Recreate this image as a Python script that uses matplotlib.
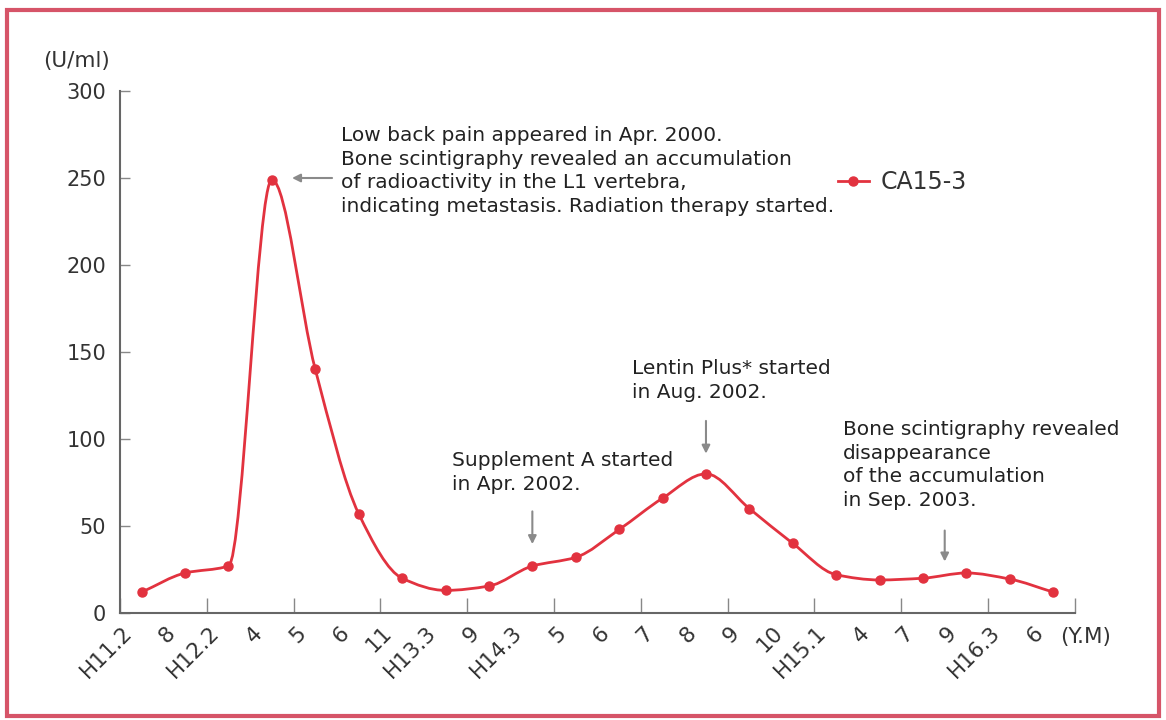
import numpy as np
import matplotlib.pyplot as plt
import matplotlib.transforms as mtransforms
from matplotlib.path import Path
from matplotlib.patches import PathPatch, Rectangle
from matplotlib.lines import Line2D

plt.rcParams['font.family'] = ['DejaVu Sans']

# tick labels (year.month, Heisei era)
labels = ['H11.2', '8', 'H12.2', '4', '5', '6', '11', 'H13.3', '9', 'H14.3',
          '5', '6', '7', '8', '9', '10', 'H15.1', '4', '7', '9', 'H16.3', '6']
# CA15-3 values (U/ml)
ca153 = [12, 23, 27, 249, 140, 57, 20, 13, 15.5, 27,
         32, 48, 66, 80, 60, 40, 22, 19, 20, 23, 19.5, 12]

RED = '#e2323f'
GRAY = '#8a8a8a'
TXT = '#333333'

x = np.arange(len(ca153)) + 0.5
y = np.array(ca153, dtype=float)

fig = plt.figure(figsize=(11.66, 7.2), dpi=100)
ax = fig.add_axes([0.1029, 0.1486, 0.819, 0.725])

# smooth line: monotone cubic (fritsch-carlson) drawn as bezier path
h = np.diff(x)
d = np.diff(y) / h
m = np.zeros_like(y)
m[0], m[-1] = d[0], d[-1]
for i in range(1, len(y) - 1):
    if d[i-1] * d[i] > 0:
        m[i] = 2 / (1 / d[i-1] + 1 / d[i])
verts = [(x[0], y[0])]
codes = [Path.MOVETO]
for i in range(len(y) - 1):
    verts += [(x[i] + h[i] / 3, y[i] + m[i] * h[i] / 3),
              (x[i+1] - h[i] / 3, y[i+1] - m[i+1] * h[i] / 3),
              (x[i+1], y[i+1])]
    codes += [Path.CURVE4] * 3
ax.add_patch(PathPatch(Path(verts, codes), fill=False, edgecolor=RED, lw=2))
ax.plot(x, y, 'o', color=RED, ms=6.5, zorder=3)

ax.set_xlim(0, 22)
ax.set_ylim(0, 300)
for s in ['top', 'right']:
    ax.spines[s].set_visible(False)
for s in ['left', 'bottom']:
    ax.spines[s].set_color('#666666')
    ax.spines[s].set_linewidth(1.5)

ax.set_yticks(range(0, 301, 50))
ax.tick_params(axis='y', direction='in', length=7, color='#888888', width=1,
               labelsize=15, labelcolor=TXT, pad=10)
ax.set_xticks(range(0, 23, 2))
ax.set_xticklabels([])
ax.tick_params(axis='x', direction='in', length=11, color='#888888', width=1)
ax.set_xticks(x, minor=True)
ax.set_xticklabels(labels, minor=True, rotation=45, ha='right', va='top',
                   rotation_mode='anchor', fontsize=15.5, color=TXT)
ax.tick_params(axis='x', which='minor', length=0, pad=7)
shift = mtransforms.ScaledTranslation(-0.2, 0, fig.dpi_scale_trans)
for lab in ax.get_xticklabels(minor=True):
    lab.set_transform(lab.get_transform() + shift)

ax.text(-1.0, 317, '(U/ml)', ha='center', va='center', fontsize=15.5, color=TXT)
ax.text(22.25, -14, '(Y.M)', ha='center', va='center', fontsize=15.5, color=TXT)

# annotations
ann = dict(fontsize=14.5, color='#222222', va='top', ha='left', linespacing=1.32)
arr = dict(arrowstyle='-|>', color=GRAY, lw=1.5, mutation_scale=12)
ax.text(5.1, 280, 'Low back pain appeared in Apr. 2000.\n'
        'Bone scintigraphy revealed an accumulation\n'
        'of radioactivity in the L1 vertebra,\n'
        'indicating metastasis. Radiation therapy started.', **ann)
ax.annotate('', xy=(3.9, 250), xytext=(4.95, 250), arrowprops=arr)

ax.text(7.65, 93, 'Supplement A started\nin Apr. 2002.', **ann)
ax.annotate('', xy=(9.5, 38), xytext=(9.5, 60), arrowprops=arr)

ax.text(11.8, 146, 'Lentin Plus* started\nin Aug. 2002.', **ann)
ax.annotate('', xy=(13.5, 90), xytext=(13.5, 112), arrowprops=arr)

ax.text(16.65, 111, 'Bone scintigraphy revealed\ndisappearance\n'
        'of the accumulation\nin Sep. 2003.', **ann)
ax.annotate('', xy=(19.0, 28), xytext=(19.0, 49), arrowprops=arr)

handle = Line2D([], [], color=RED, lw=2, marker='o', ms=6.5)
ax.legend([handle], ['CA15-3'], loc='center left', bbox_to_anchor=(0.752, 0.826),
          frameon=False, prop={'size': 17}, labelcolor=TXT, borderaxespad=0,
          borderpad=0, handlelength=1.3, handletextpad=0.5)

# figure border
fig.patches.append(Rectangle((0.006, 0.006), 0.988, 0.98, transform=fig.transFigure,
                             fill=False, edgecolor='#d65468', lw=3))

plt.savefig('out.png', dpi=100)
